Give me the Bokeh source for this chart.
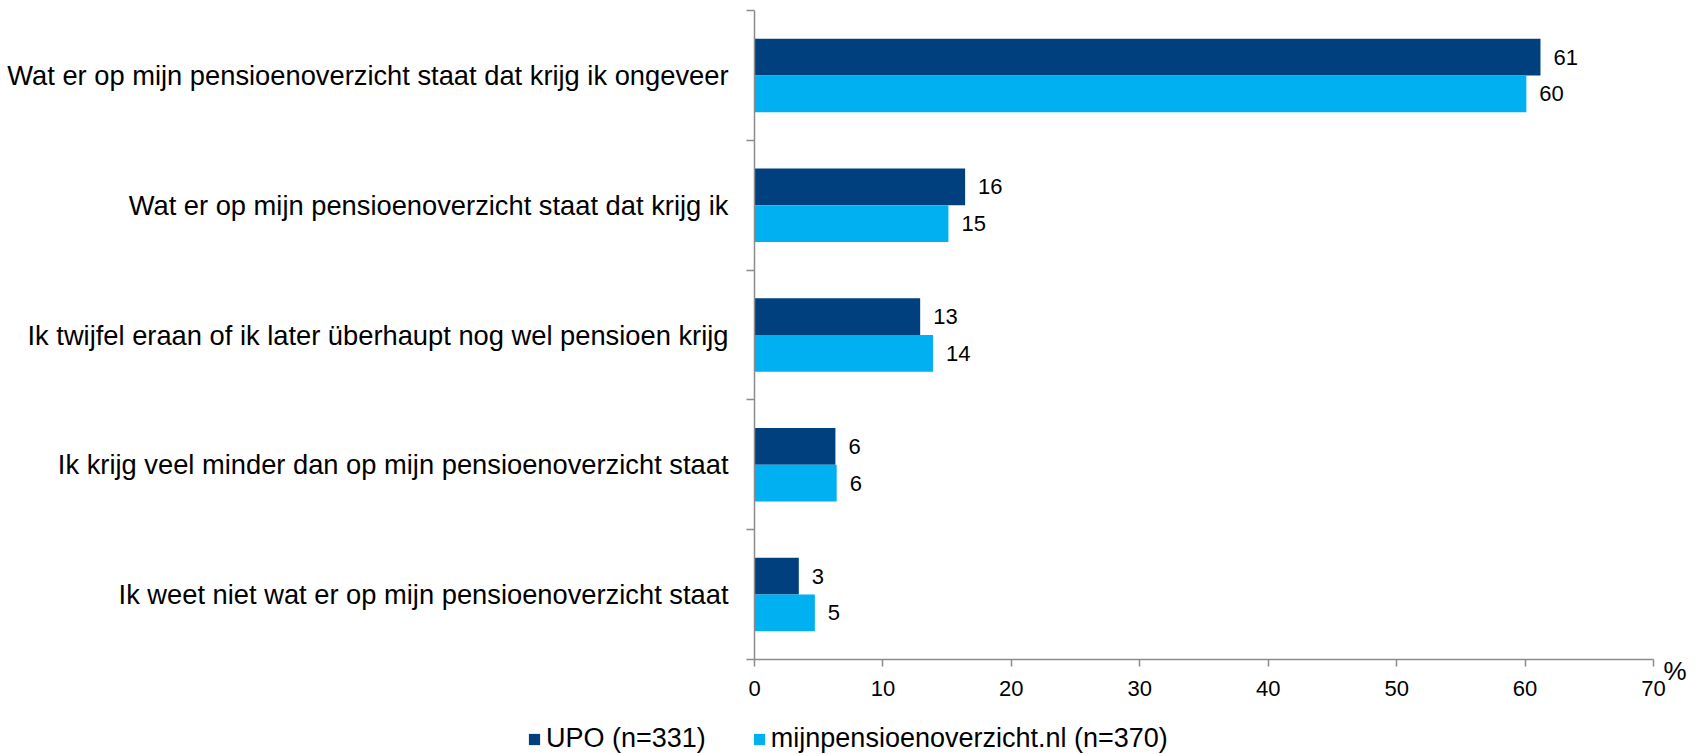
from bokeh.plotting import figure
from bokeh.layouts import column
from bokeh.models import (Range1d, FixedTicker, ColumnDataSource, Legend, LegendItem, LinearAxis)
from bokeh.core.properties import value
from bokeh.embed import file_html
from bokeh.resources import INLINE

categories = [
    "Wat er op mijn pensioenoverzicht staat dat krijg ik ongeveer",
    "Wat er op mijn pensioenoverzicht staat dat krijg ik",
    "Ik twijfel eraan of ik later überhaupt nog wel pensioen krijg",
    "Ik krijg veel minder dan op mijn pensioenoverzicht staat",
    "Ik weet niet wat er op mijn pensioenoverzicht staat",
]
upo = [61.2, 16.4, 12.9, 6.3, 3.45]
mijn = [60.1, 15.1, 13.9, 6.4, 4.7]
series_names = ["UPO (n=331)", "mijnpensioenoverzicht.nl (n=370)"]
x_ticks = [0, 10, 20, 30, 40, 50, 60, 70]
unit_label = "%"

FONT = "Liberation Sans"
DARK = "#00407F"
LIGHT = "#00B0F0"
AXIS = "#8C8C8C"

n = len(categories)
centers = [n - i - 0.5 for i in range(n)]
off = 0.1415
bh = 0.283

src_upo = ColumnDataSource(dict(y=[c + off for c in centers], v=upo,
                                lab=[str(int(round(v))) for v in upo]))
src_mijn = ColumnDataSource(dict(y=[c - off for c in centers], v=mijn,
                                 lab=[str(int(round(v))) for v in mijn]))

W = 1697
H1 = 715
H2 = 754 - H1

p = figure(width=W, height=H1, output_backend="svg", toolbar_location=None,
           x_range=Range1d(0, 70), y_range=Range1d(0, n),
           min_border_left=754, min_border_right=44, min_border_top=10,
           min_border_bottom=H1 - 659)
p.outline_line_color = None
p.xgrid.visible = False
p.ygrid.visible = False

r1 = p.hbar(y="y", right="v", left=0, height=bh, source=src_upo,
            fill_color=DARK, line_color=None)
r2 = p.hbar(y="y", right="v", left=0, height=bh, source=src_mijn,
            fill_color=LIGHT, line_color=None)

for src in (src_upo, src_mijn):
    p.text(x="v", y="y", text="lab", source=src, x_offset=13,
           text_align="left", text_baseline="middle",
           text_font=value(FONT), text_font_size="22px", text_color="black")

# x axis
xa = p.xaxis[0]
xa.ticker = FixedTicker(ticks=x_ticks, minor_ticks=[])
xa.axis_line_color = AXIS
xa.axis_line_width = 1.5
xa.major_tick_line_color = AXIS
xa.major_tick_line_width = 1.5
xa.major_tick_out = 7
xa.major_tick_in = 0
xa.minor_tick_line_color = None
xa.major_label_text_font = FONT
xa.major_label_text_font_size = "22px"
xa.major_label_text_color = "black"
xa.major_label_standoff = 14

# y axis
ya = p.yaxis[0]
ya.ticker = FixedTicker(ticks=centers, minor_ticks=list(range(n + 1)))
ya.major_label_overrides = {c: categories[i] for i, c in enumerate(centers)}
ya.axis_line_color = AXIS
ya.axis_line_width = 1.5
ya.major_tick_line_color = None
ya.major_tick_out = 0
ya.major_tick_in = 0
ya.minor_tick_line_color = AXIS
ya.minor_tick_line_width = 1.5
ya.minor_tick_out = 8
ya.minor_tick_in = 0
ya.major_label_text_font = FONT
ya.major_label_text_font_size = "27.3px"
ya.major_label_text_color = "black"
ya.major_label_standoff = 18

# unit label "%" at the right end of the value axis
p.extra_y_ranges = {"unit": Range1d(0, 1)}
ua = LinearAxis(y_range_name="unit", ticker=FixedTicker(ticks=[0], minor_ticks=[]),
                major_label_overrides={0: "\n" + unit_label})
ua.axis_line_color = None
ua.major_tick_line_color = None
ua.minor_tick_line_color = None
ua.major_tick_out = 0
ua.major_tick_in = 0
ua.major_label_standoff = 10
ua.major_label_text_font = FONT
ua.major_label_text_font_size = "26px"
ua.major_label_text_color = "black"
ua.major_label_text_line_height = 0.75
p.add_layout(ua, "right")

# legend strip
q = figure(width=W, height=H2, output_backend="svg", toolbar_location=None,
           x_range=Range1d(0, 1), y_range=Range1d(0, 1),
           x_axis_location=None, y_axis_location=None,
           min_border_left=0, min_border_right=0, min_border_top=0,
           min_border_bottom=0)
q.frame_align = False
q.outline_line_color = None
q.xgrid.visible = False
q.ygrid.visible = False
l1 = q.hbar(y=[0.5], right=[0], left=[0], height=0.5, fill_color=DARK, line_color=None)
l2 = q.hbar(y=[0.5], right=[0], left=[0], height=0.5, fill_color=LIGHT, line_color=None)

legend = Legend(items=[LegendItem(label=series_names[0], renderers=[l1]),
                       LegendItem(label=series_names[1], renderers=[l2])],
                location=(527, 0), orientation="horizontal",
                glyph_width=14, glyph_height=14, label_standoff=5, spacing=46,
                padding=0, margin=0, border_line_color=None,
                background_fill_alpha=0, label_text_font=FONT,
                label_text_font_size="27px", label_text_color="black")
q.add_layout(legend, "center")

open("out.html", "w").write(file_html(column(p, q, spacing=0), INLINE))
